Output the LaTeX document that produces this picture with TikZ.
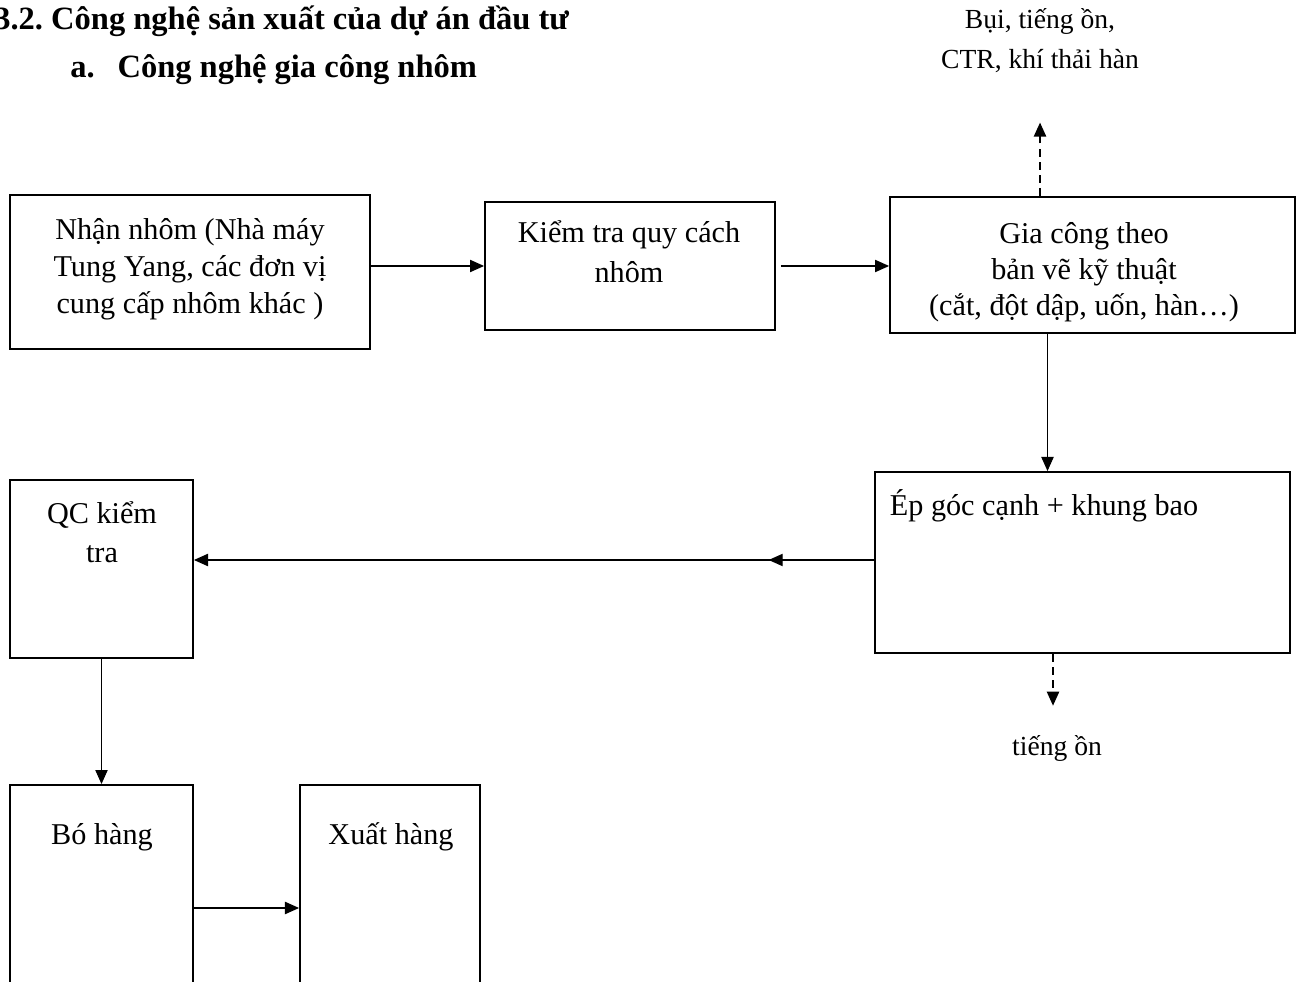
\documentclass[tikz,border=0pt]{standalone}
\usepackage{fontspec}
\setmainfont{Liberation Serif}
\usetikzlibrary{arrows.meta,decorations.markings}
\newcommand\diagfont{\fontsize{17.2}{21}\selectfont}
\newcommand\headfont{\fontsize{18.5}{21}\selectfont\bfseries\frenchspacing}
\newcommand\notefont{\fontsize{15.7}{21}\selectfont}
\begin{document}
\begin{tikzpicture}[
        x=0.02cm, y=-0.02cm,
        box/.style={draw, line width=1.1pt, inner sep=0pt},
        txt/.style={align=center, font=\diagfont, inner sep=0pt},
        arr/.style={line width=0.6pt, -{Triangle[length=8pt, width=7pt]}},
        emit/.style={arr, line width=0.9pt, dash pattern=on 4.5pt off 3pt},
    ]
    \useasboundingbox (0,0) rectangle (1298,982);

    \node[txt, font=\headfont, anchor=base west] (head) at (-6,29.5) {3.2. Công nghệ sản xuất của dự án đầu tư};
    \node[txt, font=\headfont, anchor=base west] (sub) at (70,78) {a.\hspace{13pt}Công nghệ gia công nhôm};

    \node[box, minimum width=7.2cm, minimum height=3.08cm] (nhan) at (190,272) {};
    \node[box, minimum width=5.8cm, minimum height=2.56cm] (kiem) at (630,266) {};
    \node[box, minimum width=8.1cm, minimum height=2.72cm] (gia) at (1092.5,265) {};
    \node[box, minimum width=8.3cm, minimum height=3.62cm] (ep) at (1082.5,562.5) {};
    \node[box, minimum width=3.66cm, minimum height=3.56cm] (qc) at (101.5,569) {};
    \node[box, minimum width=3.66cm, minimum height=4.3cm] (bo) at (101.5,892.5) {};
    \node[box, minimum width=3.6cm, minimum height=4.3cm] (xuat) at (390,892.5) {};

    \node[txt] (nhant) at (190,269) {Nhận nhôm (Nhà máy\\Tung Yang, các đơn vị\\cung cấp nhôm khác )};
    \node[txt] (kiemt) at (629,252) {Kiểm tra quy cách\\[1.7pt]nhôm};
    \node[txt] (giat) at (1084,272) {Gia công theo\\[-0.6pt]bản vẽ kỹ thuật\\[-0.6pt](cắt, đột dập, uốn, hàn…)};
    \node[txt] (ept) at (1044,506) {Ép góc cạnh + khung bao};
    \node[txt] (qct) at (102,532) {QC kiểm\\[1.1pt]tra};
    \node[txt] (bot) at (102,837) {Bó hàng};
    \node[txt] (xuatt) at (391,837) {Xuất hàng};
    \node[txt, font=\notefont] (emis) at (1040,41) {Bụi, tiếng ồn,\\[1.7pt]CTR, khí thải hàn};
    \node[txt, font=\notefont] (noise) at (1057,748) {tiếng ồn};

    \draw[arr] (nhan.east |- kiem.west) -- (kiem.west);
    \draw[arr] ([xshift=0.1cm]kiem.east) -- (gia.west |- kiem.east);
    \draw[arr] ([xshift=-0.9cm]gia.south) -- ([xshift=-0.9cm]gia.south |- ep.north);
    \draw[arr, postaction={decorate}, decoration={markings,
        mark=at position 0.155 with {\arrow{Triangle[length=8pt, width=7pt]}}}]
        ([yshift=0.05cm]ep.west) -- ([yshift=0.05cm]ep.west -| qc.east);
    \draw[arr] (qc.south) -- (bo.north);
    \draw[arr] ([yshift=-0.31cm]bo.east) -- ([yshift=-0.31cm]xuat.west);

    \draw[emit, shorten >=28pt] ([xshift=-1.05cm]gia.north) -- ([xshift=-1.05cm]gia.north |- emis.south);
    \draw[emit, shorten >=16.5pt] ([xshift=-0.59cm]ep.south) -- ([xshift=-0.59cm]ep.south |- noise.north);
\end{tikzpicture}
\end{document}
